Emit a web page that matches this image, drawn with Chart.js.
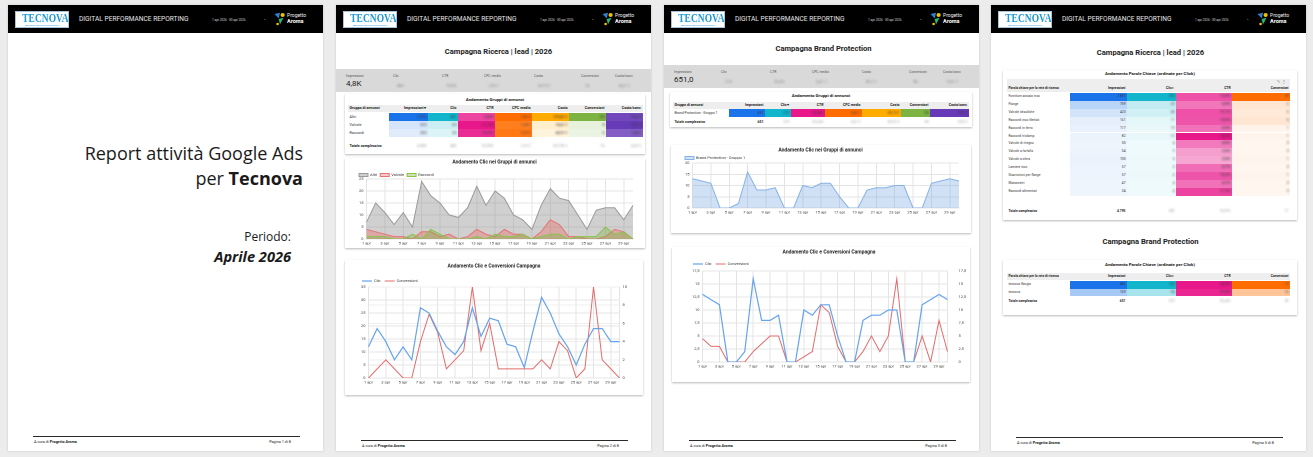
<!DOCTYPE html>
<html lang="it">
<head>
<meta charset="utf-8">
<title>Report attività Google Ads – Tecnova – Aprile 2026</title>
<script src="https://cdn.jsdelivr.net/npm/chart.js@4.4.1/dist/chart.umd.min.js"></script>
<style>
  html, body { margin: 0; padding: 0; }
  body { width: 1313px; height: 457px; overflow: hidden; position: relative; background: #ececec; font-family: Roboto, "Noto Sans", sans-serif; color: #222; }
  .page { position: absolute; top: 5px; width: 315px; height: 446px; background: #fff; box-shadow: 0 0 2px rgba(0,0,0,0.18); }
  .hdr { position: absolute; left: 0; top: 0; width: 100%; height: 28px; background: #000; }
  .logo { position: absolute; left: 7px; top: 6px; width: 54px; height: 17px; box-sizing: border-box; background: #fff; border: 1px solid #a8c4d6; text-align: center; overflow: hidden; }
  .logo b { display: block; margin-top: 0.5px; font: bold 12.5px/11.5px "Liberation Serif", "DejaVu Serif", serif; color: #1d9ad8; transform: scaleX(0.76); transform-origin: center; white-space: nowrap; }
  .logo i { display: block; font: normal 2.2px/3px Roboto, sans-serif; color: #1d9ad8; white-space: nowrap; }
  .dpr { position: absolute; left: 71px; top: 10px; font-size: 6.6px; line-height: 9px; color: #e6e6e6; white-space: nowrap; }
  .date { position: absolute; left: 204px; top: 12.5px; font-size: 3.1px; line-height: 4px; color: #ddd; white-space: nowrap; }
  .dash { position: absolute; left: 256px; top: 11px; font-size: 5px; line-height: 6px; color: #ccc; }
  .aroma { position: absolute; left: 266px; top: 6px; width: 44px; height: 16px; }
  .aroma svg { position: absolute; left: 0; top: 1px; }
  .aroma .p1 { position: absolute; left: 13px; top: 1px; font-size: 5px; line-height: 6px; color: #eee; }
  .aroma .p2 { position: absolute; left: 13px; top: 7px; font-size: 5.5px; line-height: 6px; color: #fff; font-weight: bold; }
  .foot { position: absolute; left: 25px; width: 267px; border-top: 1.5px solid #2a2a2a; }
  .foot span { position: absolute; top: 2px; font-size: 3.8px; line-height: 5px; color: #222; white-space: nowrap; }
  .foot .l { left: 1px; }
  .foot .r { right: 9px; }
  .ptitle { position: absolute; left: 0; width: 100%; text-align: center; font-weight: bold; font-size: 7.6px; line-height: 10px; }
  .kpi { position: absolute; left: 0; width: 100%; height: 23px; background: #d9d9d9; }
  .kpi .lab { position: absolute; top: 5px; font-size: 3.4px; line-height: 4px; color: #555; white-space: nowrap; }
  .kpi .val { position: absolute; top: 10px; font-size: 8px; line-height: 9px; color: #222; white-space: nowrap; }
  .kpi .val.bl { font-size: 4px; top: 12px; color: #888; }
  .bl { filter: blur(0.9px); }
  .card { position: absolute; background: #fff; box-shadow: 0 0.5px 2px rgba(0,0,0,0.28); }
  .card .ttl { position: absolute; left: 0; width: 100%; text-align: center; font-weight: bold; font-size: 4.4px; line-height: 6px; white-space: nowrap; }
  .band { position: absolute; background: #eeeeee; }
  .tools { position: absolute; font-size: 4px; line-height: 6px; color: #555; }
  .cell { position: absolute; box-sizing: border-box; white-space: nowrap; overflow: hidden; padding: 0 1.5px; color: #333; }
  .cell.r { text-align: right; }
  .cell.hd { font-weight: bold; color: #222; }
  .cell.tot { font-weight: bold; overflow: visible; color: #222; }
  .cell .fa { color: #bbb; }
  .cover1 { position: absolute; right: 20px; top: 136px; text-align: right; font-family: "Open Sans", sans-serif; font-size: 18px; line-height: 25px; color: #1a1a1a; white-space: nowrap; }
  .cover2 { position: absolute; right: 32px; top: 224px; text-align: right; font-family: "Open Sans", sans-serif; color: #1a1a1a; white-space: nowrap; }
  .cover2 .a { font-size: 12px; line-height: 16px; }
  .cover2 .b { font-size: 14.6px; line-height: 22px; font-weight: bold; font-style: italic; }
</style>
</head>
<body>

<div class="page" id="p1" style="left:8px">
  <div class="cover1">Report attività Google Ads<br>per <b>Tecnova</b></div>
  <div class="cover2"><div class="a">Periodo:</div><div class="b">Aprile 2026</div></div>
</div>

<div class="page" id="p2" style="left:336px">
  <div class="ptitle" style="top:42px;left:5px">Campagna Ricerca | lead | 2026</div>
  <div class="kpi" id="kpiRicerca" style="top:64px"></div>
  <div class="card" id="tabGruppiRicerca" style="left:9px;top:89px;width:300px;height:60px"></div>
  <div class="card" style="left:9px;top:153px;width:300px;height:90px"><canvas id="chartGruppiRicerca"></canvas></div>
  <div class="card" style="left:9px;top:255px;width:298px;height:135px"><canvas id="chartClicConvRicerca"></canvas></div>
</div>

<div class="page" id="p3" style="left:664px">
  <div class="ptitle" style="top:39px;left:2px">Campagna Brand Protection</div>
  <div class="kpi" id="kpiBrand" style="top:60px"></div>
  <div class="card" id="tabGruppoBrand" style="left:6px;top:87px;width:302px;height:35px"></div>
  <div class="card" style="left:7px;top:140px;width:300px;height:88px"><canvas id="chartGruppoBrand"></canvas></div>
  <div class="card" style="left:8px;top:242px;width:298px;height:135px"><canvas id="chartClicConvBrand"></canvas></div>
</div>

<div class="page" id="p4" style="left:991px">
  <div class="ptitle" style="top:43px;left:2px">Campagna Ricerca | lead | 2026</div>
  <div class="card" id="tabParoleRicerca" style="left:12px;top:65px;width:294px;height:150px"></div>
  <div class="ptitle" style="top:232px;left:2px">Campagna Brand Protection</div>
  <div class="card" id="tabParoleBrand" style="left:12px;top:255px;width:294px;height:55px"></div>
</div>

<script>
const giorni = ['1 apr', '2 apr', '3 apr', '4 apr', '5 apr', '6 apr', '7 apr', '8 apr', '9 apr', '10 apr',
  '11 apr', '12 apr', '13 apr', '14 apr', '15 apr', '16 apr', '17 apr', '18 apr', '19 apr', '20 apr',
  '21 apr', '22 apr', '23 apr', '24 apr', '25 apr', '26 apr', '27 apr', '28 apr', '29 apr', '30 apr'];

// Campagna Ricerca - clic per gruppo di annunci
const clicAltri    = [7, 15, 11, 6, 11, 5, 24, 18, 15, 10, 9, 13, 22, 14, 20, 17, 10, 8, 4, 14, 21, 17, 16, 10, 4, 12, 13, 13, 8, 14];
const clicValvole  = [4, 3, 2, 1, 1, 0, 3, 3, 1, 2, 0, 1, 4, 2, 1, 4, 2, 2, 0, 3, 8, 6, 1, 1, 0, 0, 1, 4, 3, 0];
const clicRaccordi = [1, 1, 1, 0, 0, 2, 0, 4, 2, 0, 0, 0, 1, 0, 2, 1, 1, 2, 0, 1, 2, 2, 0, 1, 1, 1, 5, 2, 3, 0];
// Campagna Ricerca - clic e conversioni
const clicRicerca = [12, 19, 14, 7, 12, 7, 27, 25, 18, 12, 9, 14, 27, 16, 23, 22, 13, 12, 4, 18, 31, 25, 17, 12, 5, 13, 19, 19, 14, 14];
const convRicerca = [0, 1, 2, 1, 0, 0, 4, 7, 5, 1, 2, 3, 10, 3, 6, 1, 1, 1, 1, 1, 2, 1, 4, 3, 0, 1, 10, 2, 1, 0];

// Campagna Brand Protection
const clicBrand = [13, 12, 11, 0, 0, 2, 16, 8, 8, 9, 0, 0, 10, 9, 11, 11, 5, 0, 0, 8, 9, 9, 10, 10, 0, 0, 11, 12, 13, 12];
const convBrand = [4.5, 3, 3, 0, 0, 0, 2, 3.5, 5, 5, 0, 0, 1, 2, 11, 9.5, 3, 0, 0, 2, 5, 2, 5, 16, 0, 0, 5, 0, 8, 2];

// assi (max, passo)
const assiGruppi = [25, 5];
const assiRicercaClic = [35, 5];
const assiRicercaConv = [10, 2];
const assiGruppoBrand = [20, 5];
const assiBrand = [17.5, 2.5];

// tabelle
const gruppiRicerca = ['Altri', 'Valvole', 'Raccordi'];
const gruppiImpr = [3950, 520, 330];
const gruppiClic = [381, 63, 36];
const gruppiCosto = [518.4, 74.6, 44.9];
const gruppiConv = [60, 8, 6];

const gruppoBrand = ['Brand Protection - Gruppo 1'];
const gruppoBrandImpr = [651];
const gruppoBrandClic = [219];
const gruppoBrandCosto = [89.7];
const gruppoBrandConv = [98];

const paroleRicerca = ['Forniture acciaio inox', 'Flange', 'Valvole idrauliche', 'Raccordi inox filettati', 'Raccordi in ferro',
  'Raccordi triclamp', 'Valvole di ritegno', 'Valvole a farfalla', 'Valvole a sfera', 'Lamiere inox',
  'Guarnizioni per flange', 'Manometri', 'Raccordi alimentari'];
const paroleImpr = [2857, 759, 420, 161, 117, 82, 50, 54, 100, 57, 57, 47, 34];
const paroleClic = [305, 63, 45, 17, 10, 12, 4, 3, 5, 5, 6, 4, 4];
const paroleConv = [50, 6, 5, 6, 1, 1, 0, 0, 1, 0, 1, 0, 0];

const paroleBrand = ['tecnova flangia', 'tecnova'];
const paroleBrandImpr = [482, 169];
const paroleBrandClic = [165, 54];
const paroleBrandConv = [72, 26];

const kpiLabels = ['Impressioni', 'Clic', 'CTR', 'CPC medio', 'Costo', 'Conversioni', 'Costo/conv.'];
const kpiRicerca = ['4,8K', '480', '10,0%', '1,33 €', '637,9 €', '74', '8,62 €'];
const kpiBrand = ['651,0', '219', '33,6%', '0,41 €', '89,7 €', '98', '0,92 €'];

// ---- intestazioni e piè di pagina ----
const aromaSvg = '<svg width="12" height="14" viewBox="0 0 12 14"><path d="M0.5 2 L6 0.8 L4.8 6.5 Z" fill="#2f80d1"/><circle cx="8.6" cy="3" r="2.1" fill="#f4c300"/><path d="M4.6 7 L9.5 5.8 L6 12.5 Z" fill="#2bb673"/><circle cx="3.6" cy="12" r="1.3" fill="#f4c300"/></svg>';

function addChrome(id, pagina, footTop) {
  const page = document.getElementById(id);
  const hdr = document.createElement('div');
  hdr.className = 'hdr';
  hdr.innerHTML = '<div class="logo"><b>TECNOVA</b><i>RACCORDI VALVOLE COMPONENTI</i></div>' +
    '<div class="dpr">DIGITAL PERFORMANCE REPORTING</div>' +
    '<div class="date">1 apr 2026 - 30 apr 2026</div><div class="dash">-</div>' +
    '<div class="aroma">' + aromaSvg + '<span class="p1">Progetto</span><span class="p2">Aroma</span></div>';
  page.appendChild(hdr);
  const foot = document.createElement('div');
  foot.className = 'foot';
  foot.style.top = footTop + 'px';
  foot.innerHTML = '<span class="l">A cura di <b>Progetto Aroma</b></span><span class="r">Pagina ' + pagina + ' di 8</span>';
  page.appendChild(foot);
}
addChrome('p1', 1, 431);
addChrome('p2', 2, 435);
addChrome('p3', 3, 435);
addChrome('p4', 5, 432);

function buildKpi(id, values) {
  const xs = [10, 57, 106, 148, 198, 245, 279];
  let html = '';
  kpiLabels.forEach(function (lab, i) {
    html += '<div class="lab" style="left:' + xs[i] + 'px">' + lab + '</div>';
    html += '<div class="val' + (i ? ' bl' : '') + '" style="left:' + (xs[i] + (i ? 4 : 0)) + 'px">' + values[i] + '</div>';
  });
  document.getElementById(id).innerHTML = html;
}
buildKpi('kpiRicerca', kpiRicerca);
buildKpi('kpiBrand', kpiBrand);

// ---- tabelle heatmap ----
const palette = ['26,115,232', '18,181,203', '232,23,138', '255,109,0', '255,171,0', '124,179,66', '103,58,183'];

function heat(rgb, v, max) {
  const a = 0.06 + 0.94 * (max ? v / max : 0);
  return 'rgba(' + rgb + ',' + a.toFixed(3) + ')';
}
function num(v) { return String(Math.round(v)).replace(/\B(?=(\d{3})+(?!\d))/g, '.'); }
function dec(v) { return v.toFixed(2).replace('.', ','); }
function pct(v) { return dec(v) + '%'; }
function eur(v) { return dec(v) + ' €'; }
function sum(a) { return a.reduce(function (s, v) { return s + v; }, 0); }
function ratio(a, b, k) { return a.map(function (v, i) { return b[i] ? v / b[i] * (k || 1) : 0; }); }

function cell(txt, x, y, w, h, cls, fs, bg) {
  return '<div class="cell ' + cls + '" style="left:' + x + 'px;top:' + y + 'px;width:' + w + 'px;height:' + h +
    'px;line-height:' + h + 'px;font-size:' + fs + 'px' + (bg ? ';background:' + bg : '') + '">' + txt + '</div>';
}

function buildTable(id, t) {
  const width = sum(t.widths);
  const bandTop = t.toolbarY !== undefined ? t.toolbarY : t.headY;
  let html = '<div class="ttl" style="top:' + (t.titleY - 3) + 'px">' + t.title + '</div>';
  html += '<div class="band" style="left:' + t.left + 'px;top:' + bandTop + 'px;width:' + width + 'px;height:' + (t.headY + t.headH - bandTop) + 'px"></div>';
  if (t.toolbarY !== undefined) {
    html += '<div class="tools" style="left:' + (t.left + width - 13) + 'px;top:' + t.toolbarY + 'px">✎&nbsp;&nbsp;⋮</div>';
  }
  let x = t.left;
  t.headers.forEach(function (h, i) {
    html += cell(h, x, t.headY, t.widths[i], t.headH, i ? 'r hd' : 'hd', t.fs);
    x += t.widths[i];
  });
  t.names.forEach(function (name, r) {
    const y = t.rowY + r * t.rowH;
    let x = t.left;
    html += cell(name, x, y, t.widths[0], t.rowH, '', t.fs);
    x += t.widths[0];
    t.cols.forEach(function (c, j) {
      const max = Math.max.apply(null, c.vals);
      const txt = c.blur ? '<span class="bl">' + c.fmt(c.vals[r]) + '</span>' : c.fmt(c.vals[r]);
      html += cell(txt, x, y, t.widths[j + 1], t.rowH, 'r', t.fs, heat(palette[j], c.vals[r], max));
      x += t.widths[j + 1];
    });
  });
  x = t.left;
  html += cell('Totale complessivo', x, t.totY, t.widths[0], t.rowH, 'tot', t.fs);
  x += t.widths[0];
  t.totals.forEach(function (v, j) {
    const txt = t.cols[j].blur ? '<span class="bl fa">' + v + '</span>' : v;
    html += cell(txt, x, t.totY, t.widths[j + 1], t.rowH, 'r tot', t.fs);
    x += t.widths[j + 1];
  });
  document.getElementById(id).innerHTML = html;
}

buildTable('tabGruppiRicerca', {
  title: 'Andamento Gruppi di annunci', fs: 3.7,
  left: 3, titleY: 6, headY: 11, headH: 7, rowY: 19, rowH: 8, totY: 48,
  widths: [41, 39, 30, 37, 37, 37, 37, 37],
  headers: ['Gruppo di annunci', 'Impressioni ▾', 'Clic', 'CTR', 'CPC medio', 'Costo', 'Conversioni', 'Costo/conv.'],
  names: gruppiRicerca,
  cols: [
    { vals: gruppiImpr, fmt: num, blur: true },
    { vals: gruppiClic, fmt: num, blur: true },
    { vals: ratio(gruppiClic, gruppiImpr, 100), fmt: pct, blur: true },
    { vals: ratio(gruppiCosto, gruppiClic), fmt: eur, blur: true },
    { vals: gruppiCosto, fmt: eur, blur: true },
    { vals: gruppiConv, fmt: num, blur: true },
    { vals: ratio(gruppiCosto, gruppiConv), fmt: eur, blur: true }
  ],
  totals: [num(sum(gruppiImpr)), num(sum(gruppiClic)), pct(sum(gruppiClic) / sum(gruppiImpr) * 100),
    eur(sum(gruppiCosto) / sum(gruppiClic)), eur(sum(gruppiCosto)), num(sum(gruppiConv)), eur(sum(gruppiCosto) / sum(gruppiConv))]
});

buildTable('tabGruppoBrand', {
  title: 'Andamento Gruppi di annunci', fs: 3.5,
  left: 3, titleY: 4, headY: 10, headH: 7, rowY: 17, rowH: 8, totY: 26,
  widths: [56, 36, 26, 34, 37, 39, 29, 39],
  headers: ['Gruppo di annunci', 'Impressioni', 'Clic ▾', 'CTR', 'CPC medio', 'Costo', 'Conversioni', 'Costo/conv.'],
  names: gruppoBrand,
  cols: [
    { vals: gruppoBrandImpr, fmt: num },
    { vals: gruppoBrandClic, fmt: num, blur: true },
    { vals: ratio(gruppoBrandClic, gruppoBrandImpr, 100), fmt: pct, blur: true },
    { vals: ratio(gruppoBrandCosto, gruppoBrandClic), fmt: eur, blur: true },
    { vals: gruppoBrandCosto, fmt: eur, blur: true },
    { vals: gruppoBrandConv, fmt: num, blur: true },
    { vals: ratio(gruppoBrandCosto, gruppoBrandConv), fmt: eur, blur: true }
  ],
  totals: [num(sum(gruppoBrandImpr)), num(sum(gruppoBrandClic)), pct(sum(gruppoBrandClic) / sum(gruppoBrandImpr) * 100),
    eur(sum(gruppoBrandCosto) / sum(gruppoBrandClic)), eur(sum(gruppoBrandCosto)), num(sum(gruppoBrandConv)),
    eur(sum(gruppoBrandCosto) / sum(gruppoBrandConv))]
});

const colParole = ['Parola chiave per la rete di ricerca', 'Impressioni', 'Clic ▾', 'CTR', 'Conversioni'];

buildTable('tabParoleRicerca', {
  title: 'Andamento Parole Chiave (ordinate per Click)', fs: 3.3,
  left: 4, titleY: 4, toolbarY: 9, headY: 15, headH: 7, rowY: 23, rowH: 7.9, totY: 138,
  widths: [63, 57, 49, 56, 58],
  headers: colParole,
  names: paroleRicerca,
  cols: [
    { vals: paroleImpr, fmt: num },
    { vals: paroleClic, fmt: num, blur: true },
    { vals: ratio(paroleClic, paroleImpr, 100), fmt: pct, blur: true },
    { vals: paroleConv, fmt: num, blur: true }
  ],
  totals: [num(sum(paroleImpr)), num(sum(paroleClic)), pct(sum(paroleClic) / sum(paroleImpr) * 100), num(sum(paroleConv))]
});

buildTable('tabParoleBrand', {
  title: 'Andamento Parole Chiave (ordinate per Click)', fs: 3.3,
  left: 4, titleY: 5, headY: 13, headH: 7, rowY: 21, rowH: 7.5, totY: 38,
  widths: [63, 57, 49, 56, 58],
  headers: colParole,
  names: paroleBrand,
  cols: [
    { vals: paroleBrandImpr, fmt: num },
    { vals: paroleBrandClic, fmt: num, blur: true },
    { vals: ratio(paroleBrandClic, paroleBrandImpr, 100), fmt: pct, blur: true },
    { vals: paroleBrandConv, fmt: num, blur: true }
  ],
  totals: [num(sum(paroleBrandImpr)), num(sum(paroleBrandClic)), pct(sum(paroleBrandClic) / sum(paroleBrandImpr) * 100), num(sum(paroleBrandConv))]
});

// ---- grafici ----
Chart.defaults.font.family = 'Roboto';
Chart.defaults.font.size = 4;
Chart.defaults.color = '#444';

const gridColor = '#e4e4e4';

// the horizontal legend keeps 10px of empty space under itself, too much for these small cards
function legendTrim(cut) {
  return {
    id: 'legendTrim',
    beforeInit: function (chart) {
      const legend = chart.legend;
      if (!legend) return;
      const fit = legend.fit;
      legend.fit = function () {
        fit.call(this);
        this.height = Math.max(0, this.height - cut);
      };
    }
  };
}

function xAxis() {
  return {
    grid: { color: gridColor, drawTicks: false },
    border: { color: gridColor },
    afterFit: function (scale) { scale.height = 7; },
    ticks: {
      autoSkip: false, maxRotation: 0, padding: 2,
      callback: function (value, index) { return index % 2 === 0 ? this.getLabelForValue(value) : null; }
    }
  };
}
function yAxis(limits, position, extra) {
  return Object.assign({
    position: position, min: 0, max: limits[0],
    grid: { color: gridColor, drawTicks: false },
    border: { color: gridColor },
    ticks: { stepSize: limits[1], padding: 3 }
  }, extra || {});
}
function titleOpt(text, pad) {
  return { display: true, text: text, color: '#222', font: { size: 5, weight: 'bold' }, padding: pad };
}
function baseOptions(padding) {
  return {
    responsive: true, maintainAspectRatio: false, animation: false, devicePixelRatio: 2, locale: 'it-IT',
    layout: { padding: padding },
    elements: { point: { radius: 0 }, line: { borderWidth: 1, tension: 0 } }
  };
}

// Andamento Clic nei Gruppi di annunci (Ricerca)
new Chart(document.getElementById('chartGruppiRicerca'), {
  type: 'line',
  data: {
    labels: giorni,
    datasets: [
      { label: 'Altri', data: clicAltri, borderColor: '#9a9a9a', backgroundColor: 'rgba(150,150,150,0.45)', fill: 'origin', order: 3 },
      { label: 'Valvole', data: clicValvole, borderColor: '#e57373', backgroundColor: 'rgba(239,83,80,0.32)', fill: 'origin', order: 2 },
      { label: 'Raccordi', data: clicRaccordi, borderColor: '#8bc34a', backgroundColor: 'rgba(124,179,66,0.38)', fill: 'origin', order: 1 }
    ]
  },
  options: Object.assign(baseOptions({ left: 11, right: 12, top: 0, bottom: 2 }), {
    plugins: {
      title: titleOpt('Andamento Clic nei Gruppi di annunci', { top: 1, bottom: 5 }),
      legend: { align: 'start', labels: { boxWidth: 9, boxHeight: 3, padding: 3, color: '#333',
        sort: function (a, b) { return a.datasetIndex - b.datasetIndex; } } },
      tooltip: { enabled: false }
    },
    scales: { x: xAxis(), y: yAxis(assiGruppi, 'left') }
  }),
  plugins: [legendTrim(8)]
});

// Andamento Clic e Conversioni Campagna (Ricerca)
new Chart(document.getElementById('chartClicConvRicerca'), {
  type: 'line',
  data: {
    labels: giorni,
    datasets: [
      { label: 'Clic', data: clicRicerca, borderColor: '#64a3ee', borderWidth: 1.2, yAxisID: 'y' },
      { label: 'Conversioni', data: convRicerca, borderColor: '#e36b6b', borderWidth: 1, yAxisID: 'y1' }
    ]
  },
  options: Object.assign(baseOptions({ left: 13, right: 13, top: 0, bottom: 10 }), {
    plugins: {
      title: titleOpt('Andamento Clic e Conversioni Campagna', { top: 3, bottom: 6 }),
      legend: { align: 'start', labels: { usePointStyle: true, pointStyle: 'line', pointStyleWidth: 10, padding: 4, color: '#333' } },
      tooltip: { enabled: false }
    },
    scales: {
      x: xAxis(),
      y: yAxis(assiRicercaClic, 'left'),
      y1: yAxis(assiRicercaConv, 'right', { grid: { color: '#efefef', drawTicks: false } })
    }
  }),
  plugins: [legendTrim(6)]
});

// Andamento Clic nei Gruppi di annunci (Brand Protection)
new Chart(document.getElementById('chartGruppoBrand'), {
  type: 'line',
  data: {
    labels: giorni,
    datasets: [
      { label: 'Brand Protection - Gruppo 1', data: clicBrand, borderColor: '#86b2e6', backgroundColor: 'rgba(120,168,225,0.35)', fill: 'origin' }
    ]
  },
  options: Object.assign(baseOptions({ left: 11, right: 12, top: 0, bottom: 18 }), {
    plugins: {
      title: titleOpt('Andamento Clic nei Gruppi di annunci', { top: 2, bottom: 0 }),
      legend: { align: 'start', labels: { boxWidth: 9, boxHeight: 3, padding: 3, color: '#333' } },
      tooltip: { enabled: false }
    },
    scales: { x: xAxis(), y: yAxis(assiGruppoBrand, 'left') }
  }),
  plugins: [legendTrim(7)]
});

// Andamento Clic e Conversioni Campagna (Brand Protection)
new Chart(document.getElementById('chartClicConvBrand'), {
  type: 'line',
  data: {
    labels: giorni,
    datasets: [
      { label: 'Clic', data: clicBrand, borderColor: '#64a3ee', borderWidth: 1.2, yAxisID: 'y' },
      { label: 'Conversioni', data: convBrand, borderColor: '#e36b6b', borderWidth: 1, yAxisID: 'y1' }
    ]
  },
  options: Object.assign(baseOptions({ left: 17, right: 1, top: 0, bottom: 13 }), {
    plugins: {
      title: titleOpt('Andamento Clic e Conversioni Campagna', { top: 2, bottom: 3 }),
      legend: { align: 'start', labels: { usePointStyle: true, pointStyle: 'line', pointStyleWidth: 10, padding: 4, color: '#333' } },
      tooltip: { enabled: false }
    },
    scales: {
      x: xAxis(),
      y: yAxis(assiBrand, 'left'),
      y1: yAxis(assiBrand, 'right', { grid: { display: false } })
    }
  }),
  plugins: [legendTrim(5)]
});
</script>
</body>
</html>
